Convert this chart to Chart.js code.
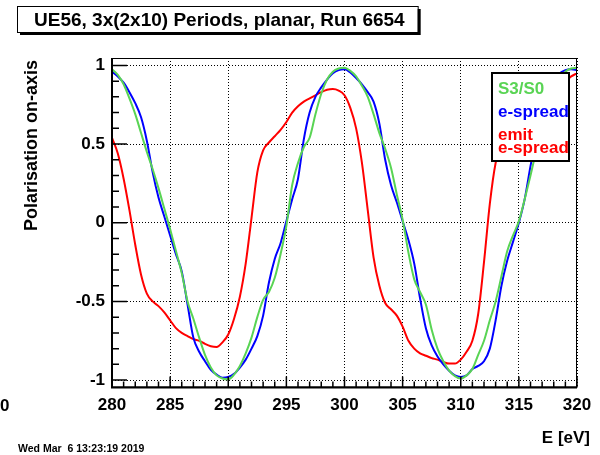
<!DOCTYPE html>
<html>
<head>
<meta charset="utf-8">
<script src="https://cdn.jsdelivr.net/npm/chart.js@4.4.1/dist/chart.umd.min.js"></script>
<style>
html, body { margin: 0; padding: 0; background: #fff; }
</style>
</head>
<body>
<canvas id="polChart" width="600" height="455"></canvas>
<script>
// photon energy [eV], one point every 0.5 eV
const energy = [
  280, 280.5, 281, 281.5, 282, 282.5, 283, 283.5, 284, 284.5,
  285, 285.5, 286, 286.5, 287, 287.5, 288, 288.5, 289, 289.5,
  290, 290.5, 291, 291.5, 292, 292.5, 293, 293.5, 294, 294.5,
  295, 295.5, 296, 296.5, 297, 297.5, 298, 298.5, 299, 299.5,
  300, 300.5, 301, 301.5, 302, 302.5, 303, 303.5, 304, 304.5,
  305, 305.5, 306, 306.5, 307, 307.5, 308, 308.5, 309, 309.5,
  310, 310.5, 311, 311.5, 312, 312.5, 313, 313.5, 314, 314.5,
  315, 315.5, 316, 316.5, 317, 317.5, 318, 318.5, 319, 319.5, 320
]

const s3s0 = [
  0.975, 0.94, 0.88, 0.79, 0.69, 0.57, 0.45, 0.34, 0.22, 0.09,
  -0.04, -0.18, -0.32, -0.50, -0.61, -0.73, -0.84, -0.92, -0.97, -0.99,
  -0.995, -0.965, -0.91, -0.83, -0.73, -0.60, -0.49, -0.44, -0.35, -0.20,
  -0.02, 0.24, 0.38, 0.48, 0.54, 0.69, 0.82, 0.91, 0.96, 0.98,
  0.985, 0.965, 0.93, 0.87, 0.80, 0.69, 0.57, 0.47, 0.35, 0.18,
  0.02, -0.19, -0.36, -0.44, -0.52, -0.68, -0.80, -0.88, -0.94, -0.975,
  -0.99, -0.97, -0.93, -0.84, -0.75, -0.62, -0.50, -0.34, -0.18, -0.08,
  0.01, 0.15, 0.30, 0.46, 0.60, 0.72, 0.83, 0.91, 0.96, 0.98, 0.985
]

const eSpread = [
  0.96, 0.93, 0.89, 0.83, 0.76, 0.67, 0.52, 0.32, 0.16, 0.04,
  -0.08, -0.20, -0.31, -0.52, -0.73, -0.82, -0.88, -0.935, -0.965, -0.985,
  -0.98, -0.96, -0.92, -0.87, -0.80, -0.72, -0.59, -0.38, -0.23, -0.13,
  0.01, 0.15, 0.28, 0.53, 0.70, 0.80, 0.86, 0.91, 0.95, 0.97,
  0.975, 0.955, 0.92, 0.88, 0.83, 0.77, 0.63, 0.40, 0.24, 0.13,
  0.01, -0.11, -0.26, -0.48, -0.67, -0.78, -0.85, -0.90, -0.94, -0.97,
  -0.98, -0.97, -0.93, -0.91, -0.88, -0.80, -0.62, -0.40, -0.24, -0.12,
  0.00, 0.15, 0.36, 0.55, 0.72, 0.84, 0.91, 0.95, 0.97, 0.975, 0.97
]

const emitSpread = [
  0.54, 0.44, 0.28, 0.08, -0.14, -0.33, -0.45, -0.50, -0.53, -0.57,
  -0.62, -0.67, -0.70, -0.72, -0.74, -0.75, -0.77, -0.785, -0.79, -0.76,
  -0.71, -0.61, -0.47, -0.26, 0.03, 0.32, 0.46, 0.51, 0.55, 0.59,
  0.64, 0.70, 0.74, 0.77, 0.79, 0.81, 0.83, 0.845, 0.85, 0.84,
  0.81, 0.73, 0.60, 0.38, 0.08, -0.22, -0.40, -0.51, -0.55, -0.59,
  -0.66, -0.75, -0.80, -0.83, -0.845, -0.86, -0.87, -0.885, -0.895, -0.895,
  -0.87, -0.82, -0.75, -0.58, -0.25, 0.12, 0.38, 0.50, 0.56, 0.61,
  0.67, 0.72, 0.76, 0.79, 0.81, 0.83, 0.86, 0.88, 0.90, 0.93, 0.95
]

const xTicks = [280, 285, 290, 295, 300, 305, 310, 315, 320]
const yTicks = [-1, -0.5, 0, 0.5, 1]

const titleText = 'UE56, 3x(2x10) Periods, planar, Run 6654'
const dateText = 'Wed Mar  6 13:23:19 2019'

const FONT = '"Liberation Sans", Arial, sans-serif'
const GREEN = '#59d454'

function toPoints(vals) {
    return vals.map((v, i) => ({ x: energy[i], y: v }))
}

// ROOT-like decorations: frame, inner ticks, title pave, legend, texts
const rootDecor = {
    id: 'rootDecor',
    afterDraw(chart) {
        const ctx = chart.ctx
        const a = chart.chartArea
        const xs = chart.scales.x
        const ys = chart.scales.y
        ctx.save()

        // frame
        ctx.strokeStyle = '#000'
        ctx.lineWidth = 1
        ctx.strokeRect(a.left + 0.5, a.top + 0.5, a.right - a.left - 1, a.bottom - a.top - 1)
        ctx.lineWidth = 2
        ctx.beginPath()
        ctx.moveTo(a.left, a.top)
        ctx.lineTo(a.left, a.bottom)
        ctx.lineTo(a.right, a.bottom)
        ctx.stroke()

        // y ticks (inside, left axis)
        ctx.lineWidth = 1.5
        ctx.beginPath()
        for (let k = -10; k <= 10; k++) {
            const py = ys.getPixelForValue(k / 10)
            const len = (k % 5 === 0) ? 15 : 7
            ctx.moveTo(a.left, py)
            ctx.lineTo(a.left + len, py)
        }
        // x ticks (inside, bottom axis)
        for (let e = 280; e <= 320; e++) {
            const px = xs.getPixelForValue(e)
            const len = (e % 5 === 0) ? 11 : 6
            ctx.moveTo(px, a.bottom)
            ctx.lineTo(px, a.bottom - len)
        }
        ctx.stroke()

        // title pave with shadow
        ctx.font = 'bold 19px ' + FONT
        const tw = ctx.measureText(titleText).width
        const bx = 17, by = 6, bw = tw + 30, bh = 26
        ctx.fillStyle = '#000'
        ctx.fillRect(bx + 3, by + 3, bw, bh)
        ctx.fillStyle = '#fff'
        ctx.fillRect(bx, by, bw, bh)
        ctx.lineWidth = 1
        ctx.strokeRect(bx + 0.5, by + 0.5, bw, bh)
        ctx.fillStyle = '#000'
        ctx.textBaseline = 'alphabetic'
        ctx.textAlign = 'left'
        ctx.fillText(titleText, bx + 17, 26)

        // legend box
        ctx.fillStyle = '#fff'
        ctx.fillRect(491, 72, 79, 90)
        ctx.lineWidth = 2
        ctx.strokeStyle = '#000'
        ctx.strokeRect(492, 73, 77, 88)
        ctx.font = 'bold 17px ' + FONT
        ctx.fillStyle = GREEN
        ctx.fillText('S3/S0', 498, 93.5)
        ctx.fillStyle = '#0000ff'
        ctx.fillText('e-spread', 498, 117)
        ctx.fillStyle = '#ff0000'
        ctx.fillText('emit', 498, 140)
        ctx.fillText('e-spread', 498, 153)

        // axis titles
        ctx.fillStyle = '#000'
        ctx.font = 'bold 17px ' + FONT
        ctx.textAlign = 'right'
        ctx.fillText('E [eV]', 590, 443)
        ctx.save()
        ctx.font = 'bold 18px ' + FONT
        ctx.translate(37, a.top + 2)
        ctx.rotate(-Math.PI / 2)
        ctx.textAlign = 'right'
        ctx.fillText('Polarisation on-axis', 0, 0)
        ctx.restore()

        // stray zero on the left and the date stamp
        ctx.textAlign = 'left'
        ctx.fillText('0', 0, 411)
        ctx.font = 'bold 10.5px ' + FONT
        ctx.fillText(dateText, 18, 452)

        ctx.restore()
    }
}

new Chart(document.getElementById('polChart'), {
    type: 'line',
    data: {
        datasets: [{
            label: 'S3/S0',
            data: toPoints(s3s0),
            borderColor: GREEN,
            borderWidth: 2
        }, {
            label: 'e-spread',
            data: toPoints(eSpread),
            borderColor: '#0000ff',
            borderWidth: 2
        }, {
            label: 'emit e-spread',
            data: toPoints(emitSpread),
            borderColor: '#ff0000',
            borderWidth: 2
        }]
    },
    options: {
        responsive: false,
        animation: false,
        events: [],
        devicePixelRatio: 1,
        layout: { padding: { left: 0, right: 23, top: 58, bottom: 27.5 } },
        elements: {
            point: { radius: 0 },
            line: { cubicInterpolationMode: 'monotone', fill: false }
        },
        plugins: {
            legend: { display: false },
            tooltip: { enabled: false }
        },
        scales: {
            x: {
                type: 'linear',
                min: 280,
                max: 320,
                afterBuildTicks: s => { s.ticks = xTicks.map(v => ({ value: v })) },
                afterFit: s => { s.height = 40 },
                ticks: {
                    color: '#000',
                    padding: 8,
                    maxRotation: 0,
                    font: { family: FONT, size: 17, weight: 'bold' }
                },
                grid: { color: '#000', lineWidth: 1, drawTicks: false },
                border: { display: false, dash: [1, 2] }
            },
            y: {
                type: 'linear',
                min: -1.047,
                max: 1.047,
                afterBuildTicks: s => { s.ticks = yTicks.map(v => ({ value: v })) },
                afterFit: s => { s.width = 112 },
                ticks: {
                    color: '#000',
                    padding: 7,
                    font: { family: FONT, size: 17, weight: 'bold' },
                    callback: v => String(v)
                },
                grid: { color: '#000', lineWidth: 1, drawTicks: false },
                border: { display: false, dash: [1, 2] }
            }
        }
    },
    plugins: [rootDecor]
})
</script>
</body>
</html>
